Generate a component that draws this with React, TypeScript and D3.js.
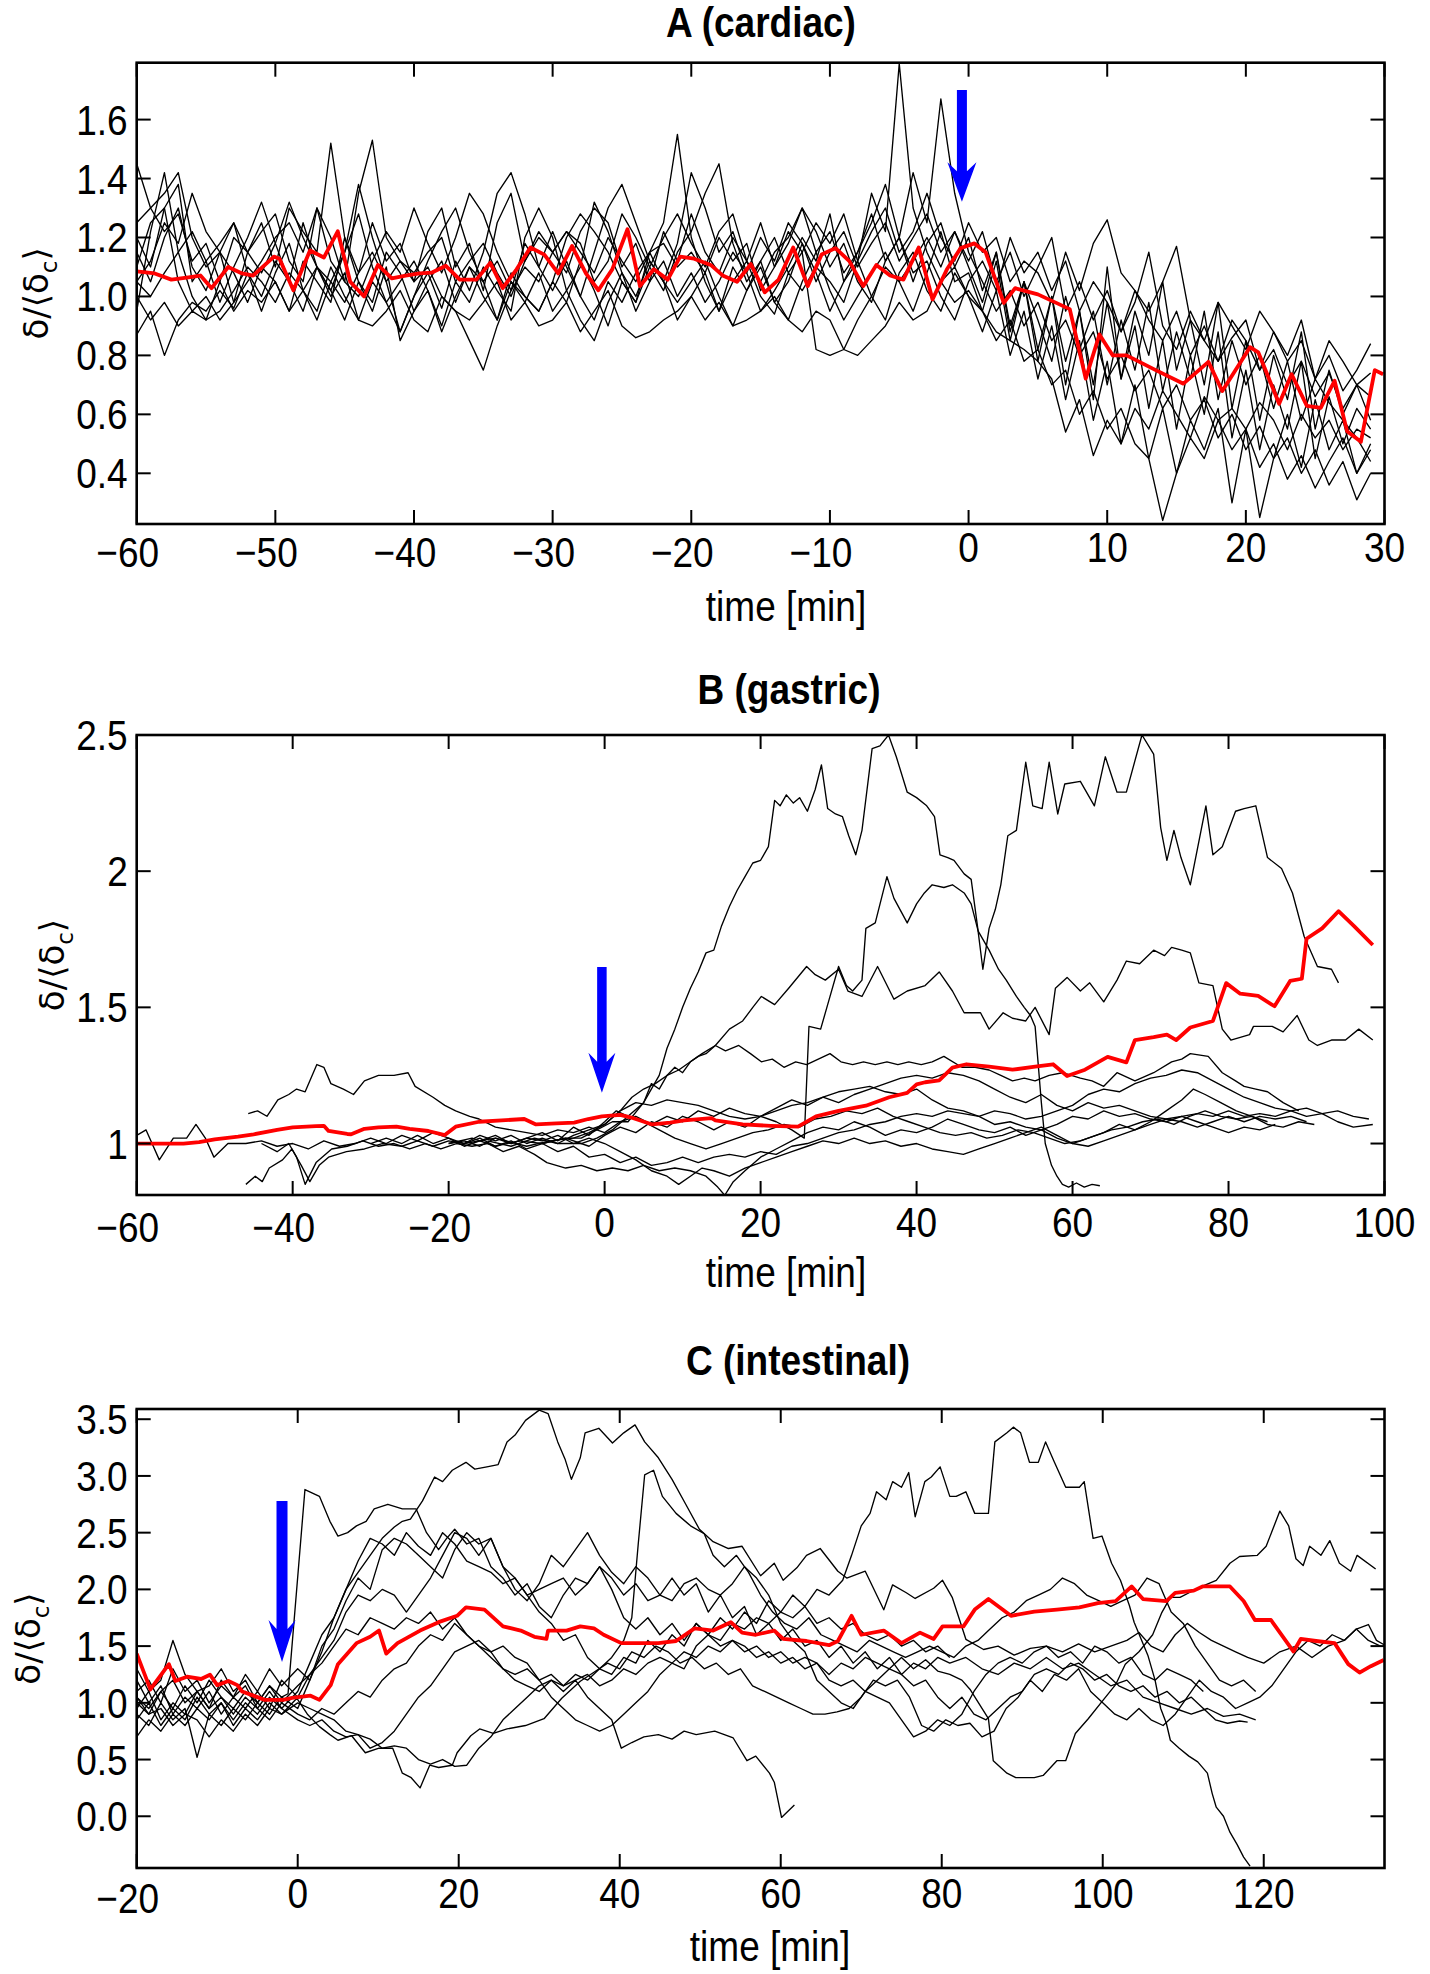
import React from 'react';
import * as d3 from 'd3';

type Pt = [number, number];

// ---------------- Panel A (cardiac) ----------------
const A_T0 = -60; // first sample time of black traces (1-min sampling)
const A1 = [1.45,1.30,1.22,1.28,1.12,1.18,1.05,1.20,1.15,1.25, 1.10,1.30,1.22,1.15,1.52,1.20,1.08,1.25,1.12,1.18, 1.05,1.22,1.30,1.10,1.18,1.02,1.25,1.35,1.12,1.20, 1.15,1.08,1.22,1.30,1.25,1.10,1.18,1.05,1.22,1.12, 1.28,1.15,1.08,1.20,1.12,1.25,1.10,1.18,1.30,1.15, 1.22,1.08,1.15,1.28,1.12,1.20,1.05,1.18,1.25,1.10, 1.20,1.02,1.15,0.90,1.05,0.82,1.00,0.78,0.95,0.70, 0.98,0.72,0.90,0.62,0.85,0.55,0.80,0.60,0.88,0.52, 0.75,0.48,0.70,0.55,0.78,0.45,0.66,0.50,0.62,0.55];
const A2 = [0.87,0.95,0.80,0.92,0.98,0.95,1.02,0.96,1.08,1.00, 1.12,1.05,0.95,1.10,1.02,0.92,1.05,0.98,1.15,1.08, 0.95,1.02,0.88,1.00,1.10,1.05,0.92,1.08,1.00,0.95, 1.05,0.98,1.12,1.02,0.90,1.05,0.98,1.15,1.05,0.92, 1.00,1.08,0.95,1.05,1.12,1.00,0.94,1.08,1.02,1.10, 1.05,0.98,1.12,1.35,1.22,1.79,1.30,1.15,1.05,1.10, 1.00,0.95,0.85,0.92,0.78,0.82,0.70,0.75,0.60,0.68, 0.55,0.62,0.50,0.45,0.24,0.40,0.52,0.45,0.58,0.48, 0.55,0.42,0.50,0.38,0.46,0.35,0.44,0.52,0.40,0.48];
const A3 = [1.25,1.30,1.35,1.42,1.20,1.10,1.15,0.98,1.05,1.12, 1.20,1.25,1.15,1.30,1.12,1.05,1.35,1.53,1.20,1.12, 1.05,1.10,1.00,0.95,0.85,0.75,0.90,1.02,1.10,1.05, 1.15,1.22,1.18,1.05,1.12,1.28,1.20,1.10,1.02,1.15, 1.22,1.35,1.45,1.18,1.05,1.12,1.20,1.08,1.15,1.25, 1.18,1.28,1.12,1.22,1.30,1.15,1.22,1.35,1.20,1.12, 1.25,1.15,1.20,1.05,1.12,1.08,0.98,1.15,1.02,1.18, 1.26,1.08,1.02,0.95,1.05,1.17,0.92,0.85,0.98,0.90, 0.82,0.95,0.88,0.78,0.85,0.72,0.80,0.68,0.75,0.84];
const A4 = [1.05,1.12,1.25,1.18,1.35,1.22,1.15,1.08,0.98,1.10, 1.05,0.95,1.02,1.10,1.00,1.08,0.92,1.05,0.98,0.88, 1.00,1.08,0.96,1.12,1.02,1.15,1.35,1.42,1.28,1.10, 1.02,1.12,1.00,0.92,1.05,0.98,1.08,1.15,1.25,1.55, 1.20,1.05,0.95,1.10,1.02,1.12,0.98,1.05,1.18,1.08, 0.95,1.05,1.12,1.00,0.92,1.08,1.15,1.02,0.95,1.08, 1.00,0.88,1.02,0.80,0.95,0.72,0.90,0.65,0.85,0.58, 0.78,0.50,0.70,0.45,0.62,0.40,0.58,0.48,0.62,0.30, 0.55,0.25,0.45,0.60,0.42,0.65,0.48,0.58,0.40,0.50];
const A5 = [1.15,1.05,1.20,1.30,1.10,1.02,1.15,1.25,1.08,0.95, 1.08,1.18,1.02,0.92,1.05,1.15,1.28,1.10,0.98,1.05, 1.12,1.02,0.90,1.05,0.98,1.10,1.02,0.95,1.20,1.30, 1.20,1.02,0.92,0.85,0.98,1.08,0.95,1.05,1.12,1.00, 1.08,0.98,1.05,1.15,1.08,0.95,1.02,1.10,1.20,1.12, 1.28,1.05,1.15,1.25,1.38,1.20,1.42,1.25,1.67,1.35, 1.15,1.05,0.95,1.02,0.90,0.98,0.85,0.92,0.80,0.88, 0.72,0.80,0.68,0.75,0.62,0.70,0.58,0.65,0.52,0.60, 0.48,0.56,0.45,0.52,0.40,0.48,0.36,0.44,0.31,0.40];
const A6 = [0.95,1.22,1.42,1.15,1.00,0.92,1.05,0.95,1.02,0.98, 1.05,0.95,1.12,1.05,0.98,1.20,1.05,0.95,1.10,0.85, 0.95,1.05,1.12,0.98,1.10,1.00,0.92,1.05,0.98,1.08, 0.95,1.02,1.10,1.32,1.22,1.08,1.00,1.12,1.05,0.98, 1.05,1.12,1.00,0.90,1.02,1.10,0.98,0.92,1.05,1.15, 1.02,0.92,1.00,1.08,1.15,1.05,0.95,1.08,1.22,1.05, 1.08,0.95,1.12,0.85,1.05,0.78,1.00,0.70,0.95,0.65, 1.10,0.72,0.95,0.80,1.05,0.75,0.92,0.70,0.98,0.62, 0.85,0.58,0.80,0.65,0.88,0.55,0.75,0.60,0.70,0.58];
const A7 = [1.20,1.10,1.30,1.38,1.05,1.12,0.98,1.10,1.20,1.32, 1.18,1.05,1.25,1.10,1.02,1.15,1.38,1.20,1.05,0.88, 1.00,1.12,1.22,1.30,1.15,1.05,1.12,1.02,1.18,1.10, 1.22,1.10,1.00,1.15,1.30,1.38,1.25,1.12,1.05,1.18, 1.42,1.30,1.15,1.22,1.08,1.20,1.12,1.25,1.18,1.05, 1.15,1.22,1.10,1.18,1.25,1.12,1.20,1.28,1.15,1.22, 1.12,1.22,1.05,1.15,1.00,1.10,1.20,0.95,1.05,0.92, 1.02,0.88,0.98,1.15,0.90,0.82,0.95,0.85,0.78,0.92, 0.85,0.75,0.88,0.80,0.92,0.72,0.85,0.78,0.70,0.74];
const A8 = [1.00,0.92,0.98,0.90,0.95,0.92,0.95,1.02,1.10,1.05, 0.98,1.08,1.02,0.95,1.10,1.00,0.92,0.90,0.95,1.02, 0.92,0.88,1.00,0.95,0.92,0.98,1.05,0.92,0.98,0.90, 0.92,0.98,0.88,0.95,1.02,0.90,0.86,0.88,0.92,0.95, 1.00,0.92,0.98,0.90,0.92,0.95,1.00,0.92,0.88,0.95, 0.92,0.82,0.80,0.85,0.90,0.98,0.92,0.95,1.05,0.98, 1.02,0.95,0.88,0.85,0.82,0.78,0.72,0.54,0.65,0.46, 0.58,0.50,0.62,0.55,0.68,0.60,0.52,0.66,0.58,0.62, 0.55,0.64,0.58,0.48,0.60,0.52,0.58,0.48,0.55,0.52];
const A9 = [1.10,1.25,1.30,1.05,0.95,1.00,0.92,0.98,1.15,1.22, 1.28,1.12,1.05,1.30,1.20,1.05,1.00,1.12,1.22,1.15, 1.30,1.18,1.08,1.20,1.35,1.28,1.15,1.05,1.00,0.95, 1.05,1.20,1.28,1.22,1.15,1.05,0.98,1.10,1.20,1.28, 1.18,1.10,1.22,1.28,1.12,1.05,1.15,1.20,1.30,1.22, 1.10,1.18,1.05,0.98,1.12,1.20,1.08,1.12,1.00,0.92, 1.05,1.12,1.02,1.20,1.08,1.15,1.02,1.12,0.95,1.05, 0.98,0.88,1.02,0.92,0.85,0.95,0.80,0.90,0.78,0.86, 0.92,0.75,0.82,0.70,0.78,0.66,0.74,0.62,0.70,0.66];
const A10 = [1.05,1.00,1.08,1.15,1.22,1.12,1.18,1.25,1.15,1.08, 1.18,1.32,1.20,1.10,1.05,0.98,1.08,1.15,1.05,1.12, 1.08,1.15,1.20,1.05,1.12,1.18,1.08,1.00,1.12,1.22, 1.15,1.22,1.15,1.08,1.20,1.12,1.05,1.15,1.18,1.10, 1.15,1.08,1.20,1.12,1.18,1.02,1.10,1.22,1.15,0.82, 0.80,0.82,0.92,1.00,1.10,1.05,1.12,1.20,1.10,1.22, 1.10,0.98,1.15,0.88,1.05,0.92,0.78,1.00,0.82,0.95, 0.70,0.92,0.75,0.98,0.68,0.88,0.72,0.95,0.65,0.85, 0.70,0.80,0.62,0.78,0.58,0.72,0.64,0.58,0.52,0.44];
const A_VALUES = [A1, A2, A3, A4, A5, A6, A7, A8, A9, A10];
const A_MEAN: Pt[] = [[-60,1.085],[-58.7,1.078],[-57.5,1.057],[-56.4,1.064],[-55.4,1.071],[-54.6,1.028],[-53.4,1.1],[-52.4,1.078],[-51.6,1.071],[-50.1,1.135],[-49.7,1.128],[-48.7,1.021],[-47.5,1.156],[-46.5,1.132],[-45.5,1.221],[-44.6,1.05],[-43.6,1.0],[-42.6,1.107],[-41.6,1.061],[-40.6,1.071],[-39.6,1.078],[-38.7,1.081],[-37.7,1.104],[-36.7,1.057],[-35.5,1.057],[-34.5,1.114],[-33.6,1.028],[-32.6,1.092],[-31.6,1.166],[-30.6,1.142],[-29.6,1.078],[-28.6,1.171],[-27.6,1.078],[-26.7,1.021],[-25.7,1.092],[-24.6,1.228],[-23.7,1.035],[-22.7,1.092],[-21.7,1.057],[-20.8,1.135],[-19.8,1.128],[-18.6,1.107],[-17.7,1.07],[-16.7,1.05],[-15.7,1.11],[-14.7,1.014],[-13.7,1.057],[-12.65,1.166],[-11.6,1.035],[-10.6,1.142],[-9.6,1.164],[-8.6,1.12],[-7.6,1.035],[-6.65,1.107],[-5.66,1.071],[-4.7,1.057],[-3.6,1.166],[-2.6,0.99],[-1.56,1.092],[-0.57,1.164],[0.42,1.18],[1.23,1.15],[2.54,0.978],[3.36,1.028],[5.0,1.007],[7.3,0.957],[8.45,0.721],[9.44,0.871],[10.4,0.80],[11.4,0.80],[13.5,0.75],[15.5,0.704],[17.3,0.778],[18.3,0.679],[20.3,0.828],[20.9,0.81],[22.4,0.636],[23.3,0.736],[24.4,0.629],[25.4,0.622],[26.4,0.714],[27.3,0.543],[28.3,0.507],[29.3,0.75],[29.9,0.736]];
const A_X_TICKS = [-60,-50,-40,-30,-20,-10,0,10,20,30];
const A_Y_TICKS = [0.4,0.6,0.8,1.0,1.2,1.4,1.6];

// ---------------- Panel B (gastric) ----------------
const B1: Pt[] = [[-20,1.0],[-17,1.02],[-14,0.99],[-11,1.01],[-8,1.0],[-5,1.02],[-3,1.02],[-1,1.05],[1,1.08],[3,1.08],[5,1.15],[7,1.25],[8,1.35],[9,1.42],[10,1.5],[11,1.57],[12,1.63],[13,1.7],[14,1.71],[15,1.8],[16,1.87],[17,1.93],[18,1.98],[19,2.03],[20,2.04],[21,2.09],[21.8,2.26],[22.5,2.24],[23.3,2.28],[24.2,2.25],[25,2.27],[26,2.22],[27,2.3],[27.8,2.39],[28.6,2.23],[29.6,2.21],[30.5,2.2],[31.3,2.13],[32.2,2.06],[33,2.15],[34.3,2.45],[35.3,2.46],[36.4,2.5],[37.4,2.42],[38.8,2.29],[40,2.27],[41.3,2.24],[42.3,2.2],[43,2.06],[44,2.05],[44.8,2.04],[46.1,1.99],[47,1.97],[47.8,1.8],[48.5,1.64],[49.3,1.79],[50.1,1.86],[50.8,1.95],[51.7,2.13],[52.8,2.15],[54,2.4],[54.9,2.24],[56.1,2.23],[57,2.4],[58.1,2.21],[59,2.32],[61,2.33],[62.8,2.24],[64.2,2.42],[65.7,2.29],[66.9,2.29],[68.9,2.5],[70.4,2.43],[71.3,2.16],[72.1,2.04],[73,2.15],[73.9,2.05],[75.1,1.95],[77.1,2.24],[78,2.06],[79.2,2.09],[80.9,2.22],[82,2.23],[83.5,2.24],[85,2.05],[86.8,2.01],[88.2,1.92],[89.7,1.76],[91.4,1.65],[93.2,1.64],[94.1,1.59]];
const B2: Pt[] = [[-8,1.0],[-5,1.02],[-2,0.99],[0,1.03],[2,1.06],[4,1.04],[6,1.08],[8,1.06],[10,1.1],[12,1.08],[14,1.05],[16,1.08],[18,1.06],[20,1.1],[22,1.08],[24,1.05],[25.6,1.02],[26.2,1.43],[27.7,1.42],[28.6,1.51],[30,1.65],[31,1.58],[31.8,1.56],[33,1.6],[33.5,1.79],[34.7,1.81],[36.2,1.98],[37.1,1.9],[38.8,1.81],[40,1.88],[41,1.92],[42,1.95],[43.5,1.94],[44.6,1.95],[46.1,1.92],[47,1.88],[47.9,1.78],[49.3,1.71],[50.5,1.64],[51.5,1.6],[52.8,1.54],[53.8,1.5],[54.6,1.47],[55.2,1.43],[55.6,1.29],[56,1.15],[56.5,1.0],[57.3,0.92],[58,0.88],[58.7,0.85],[59.5,0.84],[60.5,0.855],[61.5,0.84],[62.5,0.85],[63.5,0.845]];
const B3: Pt[] = [[-15,1.01],[-12,0.99],[-9,1.02],[-6,1.0],[-3,1.0],[-1,1.02],[1,1.05],[3,1.1],[5,1.15],[6,1.22],[7,1.2],[8,1.25],[9,1.28],[10,1.26],[11,1.3],[12,1.32],[13,1.33],[14.2,1.36],[16,1.42],[17.7,1.45],[19,1.5],[20.1,1.54],[21.8,1.51],[23.6,1.57],[25.9,1.65],[27,1.62],[28.3,1.6],[30,1.64],[31.2,1.56],[33,1.54],[35,1.65],[37.1,1.53],[38.8,1.56],[41.1,1.58],[42.9,1.63],[44.6,1.56],[46.1,1.48],[48.2,1.48],[49.3,1.42],[51.1,1.48],[52.3,1.46],[54,1.45],[55.2,1.5],[57,1.4],[57.8,1.57],[59.3,1.61],[61,1.56],[62.2,1.59],[64,1.52],[65.7,1.6],[66.9,1.67],[68.6,1.66],[70.4,1.71],[71.8,1.69],[72.7,1.72],[74,1.71],[75.1,1.7],[76.2,1.59],[78,1.58],[79.2,1.42],[80.3,1.38],[81.5,1.39],[82.7,1.4],[83.2,1.43],[85.6,1.43],[87,1.41],[88.8,1.47],[90.3,1.38],[91.4,1.36],[93.2,1.38],[95,1.38],[96.7,1.42],[98.5,1.38]];
const B4: Pt[] = [[-18,1.0],[-14,1.02],[-10,0.99],[-7,1.01],[-4,1.02],[-2,1.04],[0,1.07],[2,1.12],[3.5,1.17],[5,1.2],[6.5,1.22],[8,1.25],[9.5,1.27],[11,1.3],[12.5,1.33],[14.2,1.36],[15.5,1.34],[17.2,1.36],[18.7,1.33],[20.1,1.3],[21.5,1.31],[23,1.28],[24.5,1.3],[25.9,1.29],[27.4,1.31],[28.9,1.33],[30.3,1.3],[31.8,1.29],[33.2,1.3],[34.7,1.29],[36.2,1.3],[37.6,1.29],[39,1.3],[40.6,1.29],[42,1.3],[43.5,1.32],[45.8,1.28],[47.5,1.28],[49.3,1.27],[50.8,1.25],[52.3,1.23],[53.8,1.24],[55.2,1.23],[57,1.25],[58.7,1.26],[61,1.24],[62.5,1.23],[64,1.21],[65.7,1.26],[68,1.23],[70.4,1.26],[72.7,1.3],[74,1.31],[75.1,1.33],[77.4,1.32],[79.2,1.26],[80.9,1.23],[82,1.21],[83.5,1.2],[85,1.19],[87,1.15],[89,1.12]];
const B5: Pt[] = [[-46,0.85],[-44.8,0.88],[-43.9,0.86],[-43,0.91],[-41.3,0.94],[-40.1,0.98],[-38.9,0.92],[-37.8,0.86],[-36.6,0.92],[-35.4,0.95],[-33.1,0.97],[-30.8,0.98],[-28.5,1.0],[-26,0.99],[-24,1.01],[-22,0.99],[-20,1.01],[-18,1.0],[-16,1.02],[-14,0.99],[-12,1.01],[-10,0.98],[-8,1.0],[-6,0.97],[-4,0.99],[-2,0.95],[0,0.96],[2,0.93],[4,0.95],[6,0.92],[8,0.93],[10,0.95],[12,0.93],[14,0.95],[16,0.96],[18,0.95],[20,0.97],[22,0.96],[24,0.99],[26,1.0],[28,1.02],[30,1.04],[32,1.05],[34,1.07],[36,1.08],[38,1.1],[40,1.11],[42,1.1],[44,1.12],[46,1.11],[48,1.1],[50,1.07],[52,1.08],[54,1.06],[56,1.05],[58,1.07],[60,1.1],[62,1.09],[64,1.12],[66,1.1],[68,1.11],[70,1.09],[72,1.08],[74,1.1],[76,1.11],[78,1.1],[80,1.12],[82,1.1],[84,1.11],[86,1.1],[88,1.12],[90,1.13],[92,1.11],[94,1.08],[96,1.06],[98.5,1.07]];
const B6: Pt[] = [[-45.7,1.11],[-44.5,1.12],[-43.3,1.1],[-41.9,1.16],[-40.5,1.18],[-39.5,1.2],[-38.4,1.19],[-36.9,1.29],[-36,1.28],[-35.1,1.22],[-33.5,1.2],[-32.2,1.18],[-30.8,1.23],[-29,1.25],[-27,1.25],[-25.2,1.26],[-24.3,1.21],[-22,1.17],[-20.5,1.14],[-19.1,1.12],[-17.3,1.1],[-16.1,1.09],[-14,1.06],[-12,1.05],[-10,1.04],[-8,1.03],[-6,1.05],[-4,1.04],[-2,1.06],[0,1.04],[2,1.08],[4,1.1],[6,1.07],[8,1.1],[10,1.08],[12,1.12],[14,1.1],[16,1.13],[18,1.11],[20,1.1],[22,1.13],[24,1.16],[26,1.14],[28,1.17],[30,1.15],[32,1.18],[34,1.2],[36,1.22],[38,1.24],[40,1.25],[42,1.24],[44,1.26],[46,1.25],[48,1.23],[50,1.2],[52,1.17],[54,1.15],[56,1.18],[58,1.14],[60,1.12],[62,1.15],[64,1.13],[66,1.14],[68,1.12],[70,1.1],[72,1.09],[74,1.1],[76,1.08],[78,1.06],[80,1.04],[82,1.06],[84,1.05],[86,1.07]];
const B7: Pt[] = [[-60,1.03],[-58.8,1.05],[-57.1,0.94],[-55.3,1.02],[-53.6,1.02],[-52.4,1.07],[-51.2,1.02],[-50.1,0.95],[-48.3,1.0],[-46,1.0],[-44,1.01],[-42,0.99],[-40,1.0],[-38,0.98],[-36,1.01],[-34,0.99],[-32,1.0],[-30,1.02],[-28,1.0],[-26,1.03],[-24,1.01],[-22,1.04],[-20,1.02],[-18,1.0],[-16,1.03],[-14,1.01],[-12,1.03],[-10,1.0],[-8,1.02],[-6,1.0],[-4,1.03],[-2,1.05],[0,1.07],[2,1.12],[4,1.15],[6,1.14],[8,1.16],[10,1.15],[12,1.14],[14,1.12],[16,1.1],[18,1.09],[20,1.1],[22,1.12],[24,1.14],[26,1.15],[28,1.17],[30,1.19],[32,1.2],[34,1.21],[36,1.19],[38,1.18],[40,1.2],[42,1.16],[44,1.13],[46,1.12],[48,1.1],[50,1.12],[52,1.11],[54,1.09],[56,1.1],[58,1.12],[60,1.14],[62,1.18],[64,1.2],[66,1.19],[68,1.22],[70,1.24],[72,1.25],[74,1.27],[76,1.26],[78,1.23],[80,1.2],[82,1.17],[84,1.15],[86,1.13],[88,1.12],[90,1.1],[92,1.11],[94,1.12],[96,1.1],[98,1.09]];
const B8: Pt[] = [[-44,1.0],[-42,0.97],[-40.5,1.0],[-39.5,0.95],[-38.4,0.85],[-37,0.93],[-35,0.98],[-33,0.99],[-31,1.01],[-29,0.99],[-27,1.0],[-25,0.98],[-23,1.0],[-21,0.98],[-19,1.0],[-17,0.99],[-15,1.0],[-13,0.97],[-11,0.99],[-9,0.96],[-7.4,0.93],[-5,0.91],[-3,0.92],[-1,0.9],[1,0.91],[3,0.9],[5,0.92],[7,0.9],[9,0.91],[11,0.9],[13,0.88],[14.5,0.84],[15.4,0.81],[16.5,0.86],[18,0.9],[20,0.95],[22,0.98],[24,1.01],[26,1.04],[28,1.06],[30,1.05],[32,1.08],[34,1.06],[36,1.03],[38,1.05],[40,1.04],[42,1.06],[44,1.09],[46,1.07],[48,1.05],[50,1.04],[52,1.06],[54,1.03],[56,1.05],[58,1.02],[60,1.0],[62,1.02],[64,1.04],[66,1.07],[68,1.05],[70,1.08],[72,1.12],[74,1.16],[75.5,1.2],[77,1.18],[79,1.15],[81,1.12],[83,1.1],[85,1.08]];
const B9: Pt[] = [[-30,1.0],[-28,1.02],[-26,1.0],[-24,1.03],[-22,1.0],[-20,1.02],[-18,0.99],[-16,1.01],[-14,1.03],[-12,1.0],[-10,1.02],[-8,1.04],[-6,1.01],[-4,1.06],[-2,1.03],[0,1.08],[1.5,1.12],[3,1.1],[5,1.08],[7,1.05],[9,1.02],[11,1.0],[13,0.98],[15,1.0],[17,1.02],[19,1.04],[21,1.05],[23,1.07],[25,1.06],[27,1.09],[29,1.1],[31,1.12],[33,1.11],[35,1.13],[37,1.1],[39,1.08],[41,1.06],[43,1.04],[45,1.03],[47,1.04],[49,1.02],[51,1.03],[53,1.05],[55,1.04],[57,1.02],[59,1.0],[61,1.01],[63,1.03],[65,1.05],[67,1.06],[69,1.08],[71,1.09],[73,1.07],[75,1.1],[77,1.12],[79,1.1],[81,1.09],[83,1.1],[85,1.07],[87,1.06],[89,1.08],[91,1.07]];
const B10: Pt[] = [[-20,1.0],[-18,1.01],[-16,0.99],[-14,1.02],[-12,1.0],[-10,1.02],[-8,1.01],[-6,1.03],[-4,1.0],[-2,1.02],[0,1.0],[2,0.97],[4,0.94],[6,0.9],[8,0.88],[9.5,0.85],[11,0.88],[12.5,0.91],[14,0.9],[16,0.88],[18,0.91],[20,0.93],[22,0.95],[24,0.97],[26,0.99],[28,1.01],[30,1.0],[32,1.02],[34,1.0],[36,1.01],[38,0.99],[40,1.0],[42,0.98],[44,0.97],[46,0.96],[48,0.98],[50,1.0],[52,1.02],[54,1.04],[56,1.06],[58,1.03],[60,1.0],[62,0.99],[64,1.01],[66,1.03],[68,1.05],[70,1.07],[72,1.09],[74,1.08],[76,1.06],[78,1.08],[80,1.1],[82,1.08],[84,1.1],[86,1.09],[88,1.1],[90,1.08]];
const B_TRACES = [B1, B2, B3, B4, B5, B6, B7, B8, B9, B10];
const B_MEAN: Pt[] = [[-60,1.0],[-57,1.0],[-54,1.0],[-52,1.005],[-50,1.015],[-47,1.025],[-45,1.034],[-42,1.05],[-40,1.059],[-37,1.064],[-36,1.065],[-35.4,1.046],[-33,1.035],[-32.5,1.034],[-30.8,1.054],[-29,1.059],[-26.7,1.062],[-25,1.054],[-22.6,1.046],[-20.5,1.031],[-19.1,1.062],[-16.1,1.08],[-13.2,1.085],[-10.3,1.09],[-8.8,1.07],[-6.2,1.074],[-3.9,1.077],[-2.1,1.09],[-0.35,1.1],[2,1.105],[3.7,1.093],[6.1,1.07],[8.4,1.077],[10.2,1.085],[13.7,1.093],[14.2,1.085],[17.7,1.07],[21.3,1.065],[24.8,1.062],[27.1,1.1],[30,1.12],[33.5,1.139],[36.5,1.17],[38.8,1.186],[40,1.217],[41.1,1.225],[42.9,1.232],[44.6,1.279],[46.4,1.291],[49.3,1.282],[52.3,1.271],[55.2,1.282],[57.5,1.291],[59.3,1.248],[61.6,1.271],[64.5,1.318],[66.9,1.298],[68.0,1.38],[70.4,1.391],[72.1,1.4],[73.3,1.38],[75.1,1.426],[78,1.45],[79.7,1.589],[81.5,1.55],[83.8,1.542],[85.9,1.504],[87.9,1.597],[89.4,1.605],[90,1.752],[92,1.79],[94.1,1.853],[96.1,1.798],[98.5,1.729]];
const B_X_TICKS = [-60,-40,-20,0,20,40,60,80,100];
const B_Y_TICKS = [1,1.5,2,2.5];

// ---------------- Panel C (intestinal) ----------------
const C1: Pt[] = [[-20,1.05],[-18.5,0.9],[-17,1.1],[-15.5,0.95],[-14,1.15],[-12.5,1.0],[-11,1.2],[-9.5,1.05],[-8,0.95],[-6.5,1.1],[-5,1.0],[-3.5,1.15],[-2,1.05],[-1.2,1.08],[0.9,2.88],[2.7,2.82],[4,2.6],[5,2.47],[6.2,2.5],[7.3,2.56],[8.5,2.6],[9.5,2.71],[11.2,2.75],[13,2.71],[14.7,2.71],[16,2.5],[17.5,2.35],[18.5,2.45],[19.5,2.53],[21,2.4],[22.5,2.45],[24,2.2],[25.5,2.1],[27,1.95],[28.5,2.05],[30,1.85],[31.5,1.75],[33,1.95],[34.5,2.1],[36,2.05],[37.5,2.2],[39,2.1],[40.5,1.95],[42,2.05],[43.5,1.9],[45,1.95],[46.5,2.1],[48,1.95],[49.5,2.05],[51,1.8],[52.5,1.95],[54,1.75],[55.5,1.85],[57,1.6],[58.5,1.7],[60,1.55],[61.5,1.65],[63,1.5],[64.5,1.55],[66,1.4],[67.5,1.5],[69,1.35],[70.5,1.45],[72,1.3],[73.5,1.4],[75,1.25],[76.5,1.15],[78,1.2],[79.5,1.05],[81,0.95],[82.5,1.05],[84,0.9],[85.5,0.85],[87,0.95],[88.5,1.05],[90,1.1],[91.5,1.25],[93,1.3],[94.5,1.25],[96,1.35],[97.5,1.3],[99,1.2],[100.5,1.25],[102,1.15],[103.5,1.1],[105,1.15],[106.5,1.05],[108,1.1],[109.5,1.0],[111,1.05],[112.5,0.95],[114,0.85],[115.5,0.82],[117,0.84],[118,0.83]];
const C2: Pt[] = [[-20,0.85],[-18.5,1.0],[-17,0.8],[-15.5,0.95],[-14,0.85],[-12.5,1.05],[-11,0.9],[-9.5,1.0],[-8,0.85],[-6.5,1.0],[-5,0.9],[-3.5,1.05],[-2,0.95],[0,1.1],[1.5,1.35],[3,1.6],[4.5,1.75],[6,2.0],[7.5,2.15],[9,2.3],[10.5,2.45],[12,2.55],[13,2.6],[14,2.62],[15.5,2.78],[17,2.99],[18,2.95],[19.2,3.05],[20.9,3.12],[22,3.06],[23.5,3.08],[24.9,3.1],[26,3.3],[27,3.36],[28.3,3.49],[30,3.58],[31.1,3.55],[32.3,3.3],[33.2,3.15],[34,2.97],[35.1,3.16],[35.7,3.38],[37.4,3.42],[39.1,3.29],[40.5,3.38],[41.9,3.45],[43.1,3.3],[44.8,3.16],[46.5,2.97],[48.2,2.75],[49.9,2.53],[51.6,2.42],[53.5,2.36],[55.2,2.38],[57.5,2.12],[59.2,2.23],[60.3,2.08],[62,2.19],[63.2,2.3],[64.9,2.36],[67.1,2.16],[68.2,2.1],[70.5,2.16],[72.8,1.82],[73.9,2.04],[75.6,1.97],[76.7,1.92],[79,2.01],[80.1,2.08],[81.3,1.93],[83,1.56],[85.2,1.47],[87,1.5],[89,1.42],[91,1.48],[93,1.5],[95,1.45],[97,1.52],[99,1.45],[101,1.5],[103,1.55],[104.5,1.62],[106,1.5],[107.5,1.45],[109,1.6],[110.5,1.7],[112,1.62],[113.5,1.55],[115,1.5],[116.5,1.45],[118,1.4],[120,1.35],[122,1.45],[124,1.5],[126,1.4],[128,1.5],[130,1.55],[131.5,1.65],[133,1.69],[134,1.55],[135,1.51]];
const C3: Pt[] = [[-20,1.1],[-18.5,1.2],[-17,1.0],[-15.5,1.3],[-14,1.1],[-12.5,1.2],[-11,1.0],[-9.5,1.15],[-8,1.05],[-6.5,1.25],[-5,1.1],[-3.5,1.3],[-2,1.15],[0,1.3],[1.5,1.2],[3,1.5],[4.5,1.65],[6,1.9],[7.5,2.1],[9,2.0],[10.5,2.35],[12,2.45],[13.5,2.4],[15,2.3],[16.5,2.2],[18,2.1],[19.5,2.35],[21,2.5],[22.5,2.4],[24,2.45],[25.5,2.2],[27,2.1],[28.5,1.95],[30,1.8],[31.5,1.7],[33,1.55],[34.5,1.6],[36,1.4],[37.5,1.3],[39,1.25],[40.5,1.4],[42,1.35],[43.5,1.55],[45,1.45],[46.5,1.6],[48,1.5],[49.5,1.7],[51,1.6],[52.5,1.75],[54,1.65],[55.5,1.8],[57,1.7],[58.5,1.9],[60,1.8],[61.5,1.95],[63,1.85],[64.5,2.0],[66,1.95],[67.7,2.08],[68.8,2.3],[70,2.56],[71.1,2.67],[71.9,2.86],[73.1,2.79],[73.9,2.95],[75,2.9],[75.9,3.03],[76.7,2.64],[77.9,2.95],[78.7,2.99],[79.8,3.08],[81,2.82],[81.8,2.82],[83,2.86],[84.1,2.67],[85.8,2.67],[86.6,3.3],[88.1,3.38],[88.9,3.43],[89.8,3.38],[90.9,3.12],[92,3.12],[92.9,3.3],[94,3.12],[95.4,2.9],[97.1,2.9],[97.7,2.95],[98.8,2.45],[99.9,2.47],[101.1,2.23],[102.2,2.08],[103.3,1.86],[103.9,1.71],[105.6,1.42],[106.5,1.2],[107.2,0.95],[107.9,0.82],[108.4,0.67],[109.5,0.6],[110.7,0.53],[111.8,0.48],[113,0.38],[113.6,0.2],[114.1,0.08],[115,0.0],[115.8,-0.14],[116.7,-0.25],[117.5,-0.36],[118.3,-0.44]];
const C4: Pt[] = [[-20,0.9],[-18.5,0.8],[-17,1.0],[-15.5,0.85],[-14,0.95],[-12.5,0.52],[-11,0.9],[-9.5,0.8],[-8,0.95],[-6.5,0.85],[-5,1.0],[-3.5,0.9],[-2,1.05],[0,0.95],[1.5,1.2],[3,1.45],[4.5,1.75],[6,2.0],[7.5,2.25],[9,2.45],[10.5,2.4],[12,2.3],[13.5,2.5],[15,2.38],[16.5,2.3],[18,2.5],[19.5,2.4],[21,2.25],[22.5,2.2],[24,2.15],[25.5,2.05],[27,2.1],[28.5,1.95],[30,2.0],[31.5,2.05],[33,2.1],[34.5,1.95],[36,2.05],[37.5,2.2],[39,2.0],[40.5,1.75],[42,1.65],[43.5,1.75],[45,1.6],[46.5,1.7],[48,1.55],[49.5,1.7],[51,1.6],[52.5,1.5],[54,1.55],[55.5,1.45],[57,1.5],[58.5,1.4],[60,1.45],[61.5,1.35],[63,1.4],[64.5,1.35],[66,1.25],[67.5,1.35],[69,1.3],[70.5,1.4],[72,1.35],[73.5,1.3],[75,1.4],[76.5,1.3],[78,1.38],[79.5,1.28],[81,1.25],[82.5,1.2],[83.5,1.12],[85.8,0.86],[86.4,0.49],[88.1,0.38],[89.2,0.34],[91.5,0.34],[92.6,0.36],[94.3,0.49],[95.4,0.49],[96.6,0.73],[98.2,0.86],[99.9,1.01],[101.6,1.16],[102.8,1.34],[104.5,1.45],[106.2,1.6],[107.3,1.79],[108.4,1.93],[109.6,1.93],[111.8,2.01],[114.1,2.08],[115.8,2.23],[117,2.29],[119.2,2.3],[120.3,2.38],[122,2.69],[123.1,2.56],[124,2.27],[124.9,2.21],[125.7,2.38],[127.1,2.3],[128.2,2.43],[129.4,2.23],[130.8,2.16],[131.6,2.3],[133.9,2.18]];
const C5: Pt[] = [[-20,1.0],[-18.5,0.9],[-17,0.95],[-15.5,0.8],[-14,0.9],[-12.5,0.85],[-11,0.7],[-9.5,0.85],[-8,0.75],[-6.5,0.9],[-5,0.8],[-3.5,0.95],[-2,0.9],[-0.1,1.04],[1.2,0.9],[2.7,0.79],[4,0.72],[5,0.67],[6.7,0.71],[8.4,0.56],[10.1,0.6],[11.8,0.6],[13,0.38],[14.1,0.34],[15.2,0.25],[16.4,0.45],[17.5,0.43],[19.2,0.45],[19.8,0.56],[21.5,0.71],[22.6,0.77],[24.3,0.73],[26,0.77],[28.3,0.8],[30.6,0.86],[32.8,1.04],[35.1,1.19],[36.8,1.27],[38.5,1.35],[40,1.3],[41.5,1.45],[43,1.4],[44.5,1.5],[46,1.45],[47.5,1.35],[49,1.4],[50.5,1.3],[52,1.35],[53.5,1.25],[55,1.3],[56.5,1.15],[58,1.1],[59.5,1.05],[61,1.0],[62.5,0.95],[64,0.9],[65.5,0.9],[67,0.92],[68.5,0.95],[70,1.05],[71.5,1.2],[73,1.15],[74.5,1.2],[76,1.05],[77.5,0.8],[79,0.75],[80.5,0.85],[82,0.8],[83.5,0.82],[85,0.7],[86.5,0.75],[88,0.95],[89.5,1.05],[91,1.2],[92.5,1.1],[94,1.25],[95.5,1.2],[97,1.3],[98.5,1.1],[100,1.0],[101.5,0.9],[103,0.85],[104.5,0.95],[106,0.85],[107.5,0.8],[109,0.9],[110.5,1.05],[112,1.2],[113.5,1.1],[115,1.05],[116.5,0.95],[118,1.0],[119.5,1.05],[121,1.15],[122.5,1.3],[124,1.45],[125.5,1.55],[127,1.5],[128.5,1.6],[130,1.55],[131.5,1.65],[133,1.55],[134.5,1.5]];
const C6: Pt[] = [[-20,0.7],[-18.5,0.85],[-17,0.75],[-15.5,0.9],[-14,0.8],[-12.5,0.95],[-11,0.85],[-9.5,1.0],[-8,0.8],[-6.5,0.95],[-5,0.85],[-3.5,1.0],[-2,0.9],[0,1.0],[1.5,0.95],[3,0.9],[4.5,0.85],[6,0.75],[7.5,0.72],[9,0.68],[10.5,0.6],[12,0.62],[13.5,0.6],[15,0.5],[16.5,0.46],[18,0.5],[19.5,0.44],[21,0.45],[22.5,0.6],[24,0.7],[25.5,0.85],[27,0.95],[28.5,1.05],[30,1.15],[31.5,1.2],[33,1.1],[34.5,1.2],[36,1.05],[37.5,0.95],[39,0.85],[40.2,0.6],[41.5,0.65],[43,0.7],[44.8,0.72],[46.5,0.68],[48,0.75],[49.5,0.72],[51.8,0.75],[53,0.72],[54.1,0.69],[55.8,0.49],[56.9,0.53],[58.6,0.38],[59.2,0.3],[60.1,-0.01],[61.7,0.1]];
const C7: Pt[] = [[-20,1.2],[-18.5,1.0],[-17,1.15],[-15.5,0.9],[-14,1.05],[-12.5,0.95],[-11,1.1],[-9.5,0.9],[-8,1.05],[-6.5,0.95],[-5,1.1],[-3.5,0.95],[-2,1.2],[0,1.05],[1.5,1.25],[3,1.4],[4.5,1.55],[6,1.8],[7.5,1.95],[9,1.9],[10.5,2.0],[12,1.95],[13.5,1.8],[15,1.95],[16.5,2.1],[18,2.3],[19.5,2.5],[21,2.45],[22.5,2.3],[24,2.45],[25.5,2.2],[27,2.0],[28.5,1.9],[30,2.05],[31.5,2.3],[33,2.2],[34.5,2.35],[36,2.5],[37.5,2.3],[39,2.15],[40.5,2.05],[42,2.2],[43.5,2.1],[45,1.95],[46.5,1.9],[48,2.05],[49.5,2.1],[51,2.0],[52.5,1.95],[54,2.05],[55.5,2.2],[57,2.1],[58.5,1.95],[60,1.7],[61.5,1.55],[63,1.45],[64.5,1.2],[66,1.1],[67.5,1.0],[69,0.95],[70.5,1.1],[72,1.2],[73.5,1.3],[75,1.25],[76.5,1.35],[78,1.3],[79.5,1.4],[81,1.35],[83,1.4],[85,1.3],[87,1.25],[89,1.35],[91,1.3],[93,1.4],[95,1.3],[97,1.35],[99,1.25],[101,1.15],[103,1.2],[105,1.05],[107,1.0],[109,0.95],[111,0.9],[113,0.95],[115,0.88],[117,0.9],[119,0.85]];
const C8: Pt[] = [[-20,1.3],[-18.5,1.1],[-17,1.2],[-15.5,1.55],[-14,1.25],[-12.5,1.1],[-11,1.15],[-9.5,1.3],[-8,1.1],[-6.5,1.2],[-5,1.0],[-3.5,1.15],[-2,1.0],[0,1.15],[1.5,1.25],[3,1.35],[4.5,1.5],[6,1.65],[7.5,1.6],[9,1.75],[10.5,1.7],[12,1.65],[13.5,1.75],[15,1.7],[16.5,1.8],[18,1.65],[19.5,1.75],[21,1.6],[22.5,1.5],[24,1.4],[25.5,1.3],[27,1.2],[28.5,1.15],[30,1.1],[31.5,1.2],[33,1.15],[34.5,1.25],[36,1.2],[37.5,1.3],[39,1.4],[40.5,1.55],[41.5,1.75],[42.3,2.4],[43.1,3.01],[44.2,3.05],[45.3,2.82],[47,2.67],[48.8,2.56],[50.5,2.49],[51.6,2.3],[53,2.2],[54.5,2.3],[56,2.15],[57.5,1.95],[59,1.8],[60.5,1.7],[62,1.65],[63.5,1.75],[65,1.6],[66.5,1.55],[68,1.5],[69.5,1.45],[71,1.55],[72.5,1.5],[74,1.45],[75.5,1.4],[77,1.45],[78.5,1.5],[80,1.45],[81.5,1.4],[83,1.5],[84.5,1.55],[86,1.65],[87.5,1.75],[89,1.8],[90.5,1.9],[92,1.95],[93.5,2.0],[95,2.1],[96.5,2.05],[98,1.95],[99.5,1.9],[101,1.85],[102.5,1.9],[104,1.95],[105.5,2.1],[107,2.05],[108.5,1.8],[110,1.7],[111.5,1.5],[113,1.35],[114.5,1.2],[116,1.15],[117.5,1.2],[119,1.1]];
const C9: Pt[] = [[-20,0.95],[-18.5,1.1],[-17,0.85],[-15.5,1.0],[-14,0.9],[-12.5,1.1],[-11,0.95],[-9.5,1.05],[-8,0.9],[-6.5,1.05],[-5,0.95],[-3.5,0.85],[-2,1.0],[0,0.9],[1.5,0.85],[3,0.95],[4.5,0.9],[6,1.0],[7.5,1.1],[9,1.05],[10.5,1.2],[12,1.3],[13.5,1.35],[15,1.5],[16.5,1.6],[18,1.55],[19.5,1.7],[21,1.6],[22.5,1.5],[24,1.45],[25.5,1.3],[27,1.25],[28.5,1.3],[30,1.2],[31.5,1.25],[33,1.15],[34.5,1.2],[36,1.25],[37.5,1.15],[39,1.2],[40.5,1.3],[42,1.25],[43.5,1.35],[45,1.4],[46.5,1.35],[48,1.45],[49.5,1.4],[51,1.5],[52.5,1.45],[54,1.55],[55.5,1.5],[57,1.4],[58.5,1.45],[60,1.35],[61.5,1.4],[63,1.3],[64.5,1.35],[66,1.2],[67.5,1.15],[69,1.2],[70.5,1.1],[72,1.05],[73.5,1.0],[75,0.85],[76.5,0.7],[78,0.75],[79.5,0.85],[81,0.8],[82.5,0.9],[84,1.1],[85.5,1.25],[87,1.35],[88.5,1.4],[90,1.35],[91.5,1.45],[93,1.5],[94.5,1.4],[96,1.45],[97.5,1.35],[99,1.5],[100.5,1.45],[102,1.35],[103.5,1.4],[105,1.25],[106.5,1.2],[108,1.3],[109.5,1.25],[111,1.2],[112.5,1.1]];
const C10: Pt[] = [[-20,1.05],[-18.5,0.95],[-17,1.1],[-15.5,1.2],[-14,1.0],[-12.5,1.1],[-11,0.95],[-9.5,1.2],[-8,1.05],[-6.5,1.15],[-5,0.95],[-3.5,1.1],[-2,0.95],[0,0.85],[1.5,0.8],[3,0.85],[4.5,0.75],[6,0.7],[7.5,0.72],[9,0.6],[10.5,0.65],[12,0.75],[13.5,0.9],[15,1.05],[16.5,1.15],[18,1.3],[19.5,1.45],[21,1.5],[22.5,1.55],[24,1.45],[25.5,1.5],[27,1.4],[28.5,1.35],[30,1.2],[31.5,1.05],[33,0.95],[34.5,0.85],[36,0.8],[37.5,0.75],[39,0.8],[40.5,0.9],[42,1.0],[43.5,1.1],[45,1.25],[46.5,1.35],[48,1.3],[49.5,1.5],[51,1.6],[52.5,1.55],[54,1.7],[55.5,1.65],[57,1.75],[58.5,1.7],[60,1.8],[61.5,1.75],[63,1.85],[64.5,1.7],[66,1.75],[67.5,1.65],[69,1.7],[70.5,1.6],[72,1.55],[73.5,1.6],[75,1.5],[76.5,1.55],[78,1.45],[79.5,1.5],[81,1.4]];
const C_TRACES = [C1, C2, C3, C4, C5, C6, C7, C8, C9, C10];
const C_MEAN: Pt[] = [[-20,1.434],[-18.3,1.118],[-16,1.341],[-15.2,1.193],[-13.75,1.23],[-12,1.21],[-10.9,1.248],[-10,1.156],[-8.6,1.193],[-7.5,1.156],[-6.9,1.1],[-4.1,1.026],[-1.8,1.026],[-0.7,1.044],[1.6,1.063],[2.7,1.026],[4.1,1.156],[5,1.341],[7.3,1.526],[9,1.582],[10.1,1.637],[11,1.434],[12.4,1.526],[15.2,1.637],[17.5,1.711],[19.8,1.767],[20.9,1.841],[23.2,1.822],[25.5,1.674],[27.7,1.637],[29.4,1.582],[30.9,1.563],[31.1,1.637],[33.4,1.637],[35.1,1.674],[36.8,1.656],[38,1.6],[40.2,1.526],[42.5,1.526],[44.8,1.526],[47,1.545],[49.3,1.656],[51.6,1.637],[53.8,1.711],[55.2,1.619],[56.9,1.6],[59.2,1.637],[60.3,1.563],[63.2,1.545],[66,1.508],[67.1,1.545],[68.8,1.767],[70,1.6],[72.8,1.637],[75,1.526],[77.3,1.619],[79,1.563],[80.1,1.674],[82.7,1.674],[84.1,1.822],[85.8,1.915],[88.6,1.767],[91.5,1.804],[94.3,1.822],[97.1,1.841],[99.4,1.878],[101.6,1.897],[103.6,2.026],[105,1.915],[107.9,1.897],[109,1.97],[111.3,1.989],[112.4,2.026],[115.8,2.026],[117.5,1.897],[118.9,1.73],[120.9,1.73],[123.7,1.452],[124.6,1.563],[126.5,1.545],[128.8,1.526],[130.5,1.341],[131.9,1.267],[133.3,1.323],[134.9,1.378]];
const C_X_TICKS = [-20,0,20,40,60,80,100,120];
const C_Y_TICKS = [0,0.5,1,1.5,2,2.5,3,3.5];

// Arrows (time, top value, wing value, tip value)
const A_ARROW = { t: -0.48, top: 1.70, wing: 1.455, tip: 1.321 };
const B_ARROW = { t: -0.35, top: 1.648, wing: 1.333, tip: 1.186 };
const C_ARROW = { t: -1.95, top: 2.78, wing: 1.73, tip: 1.36 };

// ---------------- layout / style ----------------
const W = 1430, H = 1974;
const LEFT = 136.7, RIGHT = 1384.5;
const FONT = '"Liberation Sans", Arial, Helvetica, sans-serif';
const FS = 37;
const SY = 1.13;
const TICK = 14;

interface PanelCfg {
  id: string;
  title: string; titleX: number; titleY: number;
  top: number; bottom: number;
  xDomain: [number, number]; yDomain: [number, number];
  xTicks: number[]; yTicks: number[]; yFmt: (v: number) => string;
  xLabelOff: number;
  xlabelX: number; xlabelY: number;
  ylabelX: number;
  traces: Pt[][]; mean: Pt[];
  arrow: { t: number; top: number; wing: number; tip: number };
  shaftW: number; wingW: number;
}

const fmtX = (v: number) => (v < 0 ? '\u2212' + Math.abs(v) : String(v));

function STxt({ x, y, anchor, children, bold }: { x: number; y: number; anchor: string; children: React.ReactNode; bold?: boolean }) {
  return (
    <text transform={`translate(${x},${y}) scale(1,${SY})`} textAnchor={anchor as any}
      fontFamily={FONT} fontSize={FS} fontWeight={bold ? 'bold' : 'normal'} fill="#000">{children}</text>
  );
}

function Panel({ cfg }: { cfg: PanelCfg }) {
  const x = d3.scaleLinear().domain(cfg.xDomain).range([LEFT, RIGHT]);
  const y = d3.scaleLinear().domain(cfg.yDomain).range([cfg.bottom, cfg.top]);
  const line = d3.line<Pt>().x(d => x(d[0])).y(d => y(d[1]));
  const clipId = `clip-${cfg.id}`;
  const a = cfg.arrow;
  const ax = x(a.t), aTop = y(a.top), aWing = y(a.wing), aTip = y(a.tip);
  const sw = cfg.shaftW / 2, ww = cfg.wingW / 2;
  const arrowPts = [[ax - sw, aTop], [ax + sw, aTop], [ax + sw, aWing + 9], [ax + ww, aWing], [ax, aTip], [ax - ww, aWing], [ax - sw, aWing + 9]];
  const cy = (cfg.top + cfg.bottom) / 2;
  return (
    <g>
      <defs>
        <clipPath id={clipId}><rect x={LEFT} y={cfg.top} width={RIGHT - LEFT} height={cfg.bottom - cfg.top} /></clipPath>
      </defs>
      <g clipPath={`url(#${clipId})`}>
        {cfg.traces.map((tr, i) => (
          <path key={i} d={line(tr) || ''} fill="none" stroke="#000" strokeWidth={1.35} strokeLinejoin="round" />
        ))}
        <path d={line(cfg.mean) || ''} fill="none" stroke="#ff0000" strokeWidth={3.8} strokeLinejoin="round" />
      </g>
      <polygon points={arrowPts.map(p => p.join(',')).join(' ')} fill="#0000ff" />
      <rect x={LEFT} y={cfg.top} width={RIGHT - LEFT} height={cfg.bottom - cfg.top} fill="none" stroke="#000" strokeWidth={2.6} />
      {cfg.xTicks.map(t => (
        <g key={'xt' + t}>
          <line x1={x(t)} x2={x(t)} y1={cfg.bottom} y2={cfg.bottom - TICK} stroke="#000" strokeWidth={2} />
          <line x1={x(t)} x2={x(t)} y1={cfg.top} y2={cfg.top + TICK} stroke="#000" strokeWidth={2} />
          <STxt x={x(t) + (t < 0 ? -9 : 0)} y={cfg.bottom + cfg.xLabelOff + (t < 0 ? 5 : 0)} anchor="middle">{fmtX(t)}</STxt>
        </g>
      ))}
      {cfg.yTicks.map(v => (
        <g key={'yt' + v}>
          <line x1={LEFT} x2={LEFT + TICK} y1={y(v)} y2={y(v)} stroke="#000" strokeWidth={2} />
          <line x1={RIGHT} x2={RIGHT - TICK} y1={y(v)} y2={y(v)} stroke="#000" strokeWidth={2} />
          <STxt x={LEFT - 9} y={y(v) + 15} anchor="end">{cfg.yFmt(v)}</STxt>
        </g>
      ))}
      <STxt x={cfg.titleX} y={cfg.titleY} anchor="middle" bold>{cfg.title}</STxt>
      <STxt x={cfg.xlabelX} y={cfg.xlabelY} anchor="middle">time [min]</STxt>
      <text transform={`translate(${cfg.ylabelX},${cy}) rotate(-90)`} textAnchor="middle"
        fontFamily='"DejaVu Sans", sans-serif' fontSize={34} fill="#000">
        δ/⟨δ<tspan dy={9} fontSize={23}>c</tspan><tspan dy={-9}>⟩</tspan>
      </text>
    </g>
  );
}

const panelA: PanelCfg = {
  id: 'a', title: 'A (cardiac)', titleX: 761, titleY: 37,
  top: 62.7, bottom: 524,
  xDomain: [-60, 30], yDomain: [0.228, 1.793],
  xTicks: A_X_TICKS, yTicks: A_Y_TICKS, yFmt: v => v.toFixed(1),
  xLabelOff: 38, xlabelX: 786, xlabelY: 621, ylabelX: 48,
  traces: A_VALUES.map(vals => vals.map((v, i) => [A_T0 + i, v] as Pt)),
  mean: A_MEAN, arrow: A_ARROW, shaftW: 10, wingW: 29,
};
const panelB: PanelCfg = {
  id: 'b', title: 'B (gastric)', titleX: 789, titleY: 704,
  top: 735, bottom: 1195,
  xDomain: [-60, 100], yDomain: [0.811, 2.5],
  xTicks: B_X_TICKS, yTicks: B_Y_TICKS, yFmt: v => String(v),
  xLabelOff: 42, xlabelX: 786, xlabelY: 1287, ylabelX: 64,
  traces: B_TRACES, mean: B_MEAN, arrow: B_ARROW, shaftW: 9.5, wingW: 27,
};
const panelC: PanelCfg = {
  id: 'c', title: 'C (intestinal)', titleX: 798, titleY: 1375,
  top: 1409, bottom: 1868,
  xDomain: [-20, 135], yDomain: [-0.456, 3.59],
  xTicks: C_X_TICKS, yTicks: C_Y_TICKS, yFmt: v => v.toFixed(1),
  xLabelOff: 40, xlabelX: 770, xlabelY: 1961, ylabelX: 40,
  traces: C_TRACES, mean: C_MEAN, arrow: C_ARROW, shaftW: 11, wingW: 27,
};

export default function App() {
  return (
    <svg width={W} height={H} viewBox={`0 0 ${W} ${H}`}
      style={{ position: 'absolute', left: 0, top: 0, display: 'block', background: '#fff' }}>
      <rect x={0} y={0} width={W} height={H} fill="#fff" />
      <Panel cfg={panelA} />
      <Panel cfg={panelB} />
      <Panel cfg={panelC} />
    </svg>
  );
}
